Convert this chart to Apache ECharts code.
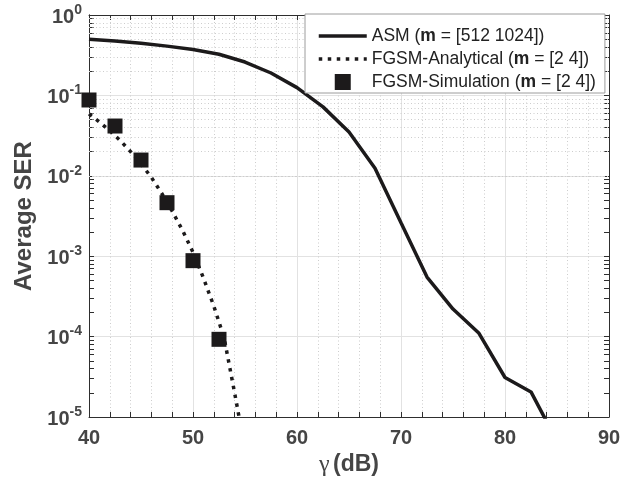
<!DOCTYPE html>
<html>
<head>
<meta charset="utf-8">
<script src="https://cdn.jsdelivr.net/npm/echarts@6/dist/echarts.min.js"></script>
<style>
html,body{margin:0;padding:0;background:#fff;}
#chart{width:632px;height:485px;}
</style>
</head>
<body>
<div id="chart"></div>
<script>
// ---- data ----
const xTicks = [40, 50, 60, 70, 80, 90];
const yExponents = [-5, -4, -3, -2, -1, 0];

const asmSnr = [40, 42.5, 45, 47.5, 50, 52.5, 55, 57.5, 60, 62.5, 65, 67.5, 70, 72.5, 75, 77.5, 80, 82.5, 85];
const asmSER = [0.50, 0.475, 0.445, 0.41, 0.372, 0.325, 0.26, 0.19, 0.125, 0.072, 0.035, 0.0124, 0.0026, 5.5e-4, 2.2e-4, 1.1e-4, 3.1e-5, 2.05e-5, 5e-6];

const anaSnr = [40, 41, 42, 43, 44, 45, 46, 47, 48, 49, 50, 51, 52, 53, 54, 55];
const anaSER = [0.0589, 0.0468, 0.0363, 0.0275, 0.0200, 0.0141, 0.00955, 0.00603, 0.00363, 0.00209, 0.00112, 5.37e-4, 2.40e-4, 9.55e-5, 2.0e-5, 4.0e-6];

const simSnr = [40, 42.5, 45, 47.5, 50, 52.5];
const simSER = [0.0877, 0.0416, 0.0157, 0.00463, 8.8e-4, 9.25e-5];

const seriesNames = ['ASM', 'FGSM-Analytical', 'FGSM-Simulation'];
const legendLabels = {
  'ASM': '{n|ASM (}{b|m}{n| = [512 1024])}',
  'FGSM-Analytical': '{n|FGSM-Analytical (}{b|m}{n| = [2 4])}',
  'FGSM-Simulation': '{n|FGSM-Simulation (}{b|m}{n| = [2 4])}'
};

// ---- derived ----
const minorY = [];
for (let e = -5; e < 0; e++) for (let k = 2; k <= 9; k++) minorY.push(k * Math.pow(10, e));
const auxTickVals = yExponents.concat(minorY.map(v => Math.log10(v)));
const pair = (xs, ys) => xs.map((x, i) => [x, ys[i]]);

const FONT = 'Liberation Sans, Arial, Helvetica, sans-serif';
const TXT = '#454545';
const AX = '#2e2e2e';
const INK = '#1c1a1b';
const DOTS = [3.5, 5.5];

const chart = echarts.init(document.getElementById('chart'), null, {renderer: 'canvas'});

const auxY = (pos) => ({
  type: 'value', min: -5, max: 0, interval: 1, position: pos,
  axisLine: {show: true, lineStyle: {color: AX, width: 1}},
  axisTick: {show: true, inside: true, length: 5, customValues: auxTickVals, lineStyle: {color: AX}},
  axisLabel: {show: false},
  splitLine: {show: false}
});

const hiddenSym = {color: 'rgba(0,0,0,0)', borderWidth: 0, borderColor: 'rgba(0,0,0,0)'};

chart.setOption({
  animation: false,
  backgroundColor: '#fff',
  grid: {left: 89, right: 23, top: 15, bottom: 68, containLabel: false},
  xAxis: [{
    type: 'value', min: 40, max: 90, interval: 10, position: 'bottom',
    name: '{g|γ} {b|(dB)}', nameLocation: 'middle', nameGap: 32,
    nameTextStyle: {rich: {
      g: {fontFamily: 'Liberation Serif, DejaVu Serif, serif', fontSize: 24, color: TXT},
      b: {fontFamily: FONT, fontWeight: 'bold', fontSize: 23, color: TXT}
    }},
    axisLine: {show: true, onZero: false, lineStyle: {color: AX, width: 1}},
    axisTick: {show: true, inside: true, length: 5, lineStyle: {color: AX}},
    minorTick: {show: true, splitNumber: 5, length: 5, lineStyle: {color: AX}},
    axisLabel: {fontFamily: FONT, fontWeight: 'bold', fontSize: 20, color: TXT, margin: 11,
      formatter: v => String(v)},
    splitLine: {show: true, lineStyle: {color: '#e2e2e2', width: 1}},
    minorSplitLine: {show: true, lineStyle: {color: '#cdcdcd', width: 1, type: [1, 2.5]}}
  }, {
    type: 'value', min: 40, max: 90, interval: 10, position: 'top',
    axisLine: {show: true, onZero: false, lineStyle: {color: AX, width: 1}},
    axisTick: {show: true, inside: true, length: 5, lineStyle: {color: AX}},
    minorTick: {show: true, splitNumber: 5, length: 5, lineStyle: {color: AX}},
    axisLabel: {show: false},
    splitLine: {show: false}
  }],
  yAxis: [{
    type: 'log', logBase: 10, min: 1e-5, max: 1, position: 'left',
    name: 'Average SER', nameLocation: 'middle', nameGap: 50, nameRotate: 90,
    nameTextStyle: {fontFamily: FONT, fontWeight: 'bold', fontSize: 24, color: TXT},
    axisLine: {show: true, lineStyle: {color: AX, width: 1}},
    axisTick: {show: false},
    axisLabel: {margin: 7, formatter: v => {
      const e = Math.round(Math.log10(v));
      return '{b|10}{s|' + e + '}';
    }, rich: {
      b: {fontFamily: FONT, fontWeight: 'bold', fontSize: 20, color: TXT, verticalAlign: 'bottom'},
      s: {fontFamily: FONT, fontWeight: 'bold', fontSize: 14, color: TXT, verticalAlign: 'bottom', padding: [0, 0, 10, 0]}
    }},
    splitLine: {show: true, lineStyle: {color: '#e2e2e2', width: 1}}
  }, auxY('left'), auxY('right')],
  legend: {
    show: true, orient: 'vertical', left: 305, top: 14,
    data: [
      {name: 'ASM', itemStyle: hiddenSym, lineStyle: {width: 3.5, color: INK}},
      {name: 'FGSM-Analytical', itemStyle: hiddenSym, lineStyle: {width: 3.5, color: INK, type: DOTS}},
      {name: 'FGSM-Simulation', icon: 'path://M0,0L10,0L10,10L0,10Z'}
    ],
    itemWidth: 48, itemHeight: 16, itemGap: 5,
    padding: [13, 9, 2, 12],
    backgroundColor: '#fff', borderColor: '#9c9c9c', borderWidth: 1, borderRadius: 0,
    formatter: name => legendLabels[name],
    textStyle: {rich: {
      n: {fontFamily: FONT, fontSize: 17.5, color: '#222'},
      b: {fontFamily: FONT, fontSize: 17.5, fontWeight: 'bold', color: '#222'}
    }},
    selectedMode: false,
    z: 10
  },
  series: [{
    name: 'minor-grid', type: 'line', data: [], xAxisIndex: 0, yAxisIndex: 0, z: 1, silent: true,
    markLine: {
      silent: true, z: 1, symbol: ['none', 'none'], animation: false,
      label: {show: false},
      lineStyle: {color: '#cdcdcd', width: 1, type: [1, 2.5]},
      data: minorY.map(v => ({yAxis: v}))
    }
  }, {
    name: seriesNames[0], type: 'line', data: pair(asmSnr, asmSER), symbol: 'none',
    xAxisIndex: 0, yAxisIndex: 0, z: 3,
    lineStyle: {color: INK, width: 3.5}, itemStyle: {color: INK}
  }, {
    name: seriesNames[1], type: 'line', data: pair(anaSnr, anaSER), symbol: 'none',
    xAxisIndex: 0, yAxisIndex: 0, z: 3,
    lineStyle: {color: INK, width: 3.5, type: DOTS, cap: 'butt'}, itemStyle: {color: INK}
  }, {
    name: seriesNames[2], type: 'scatter', data: pair(simSnr, simSER), symbol: 'rect', symbolSize: 15,
    xAxisIndex: 0, yAxisIndex: 0, z: 4,
    itemStyle: {color: INK, opacity: 1}
  }]
});
</script>
</body>
</html>
